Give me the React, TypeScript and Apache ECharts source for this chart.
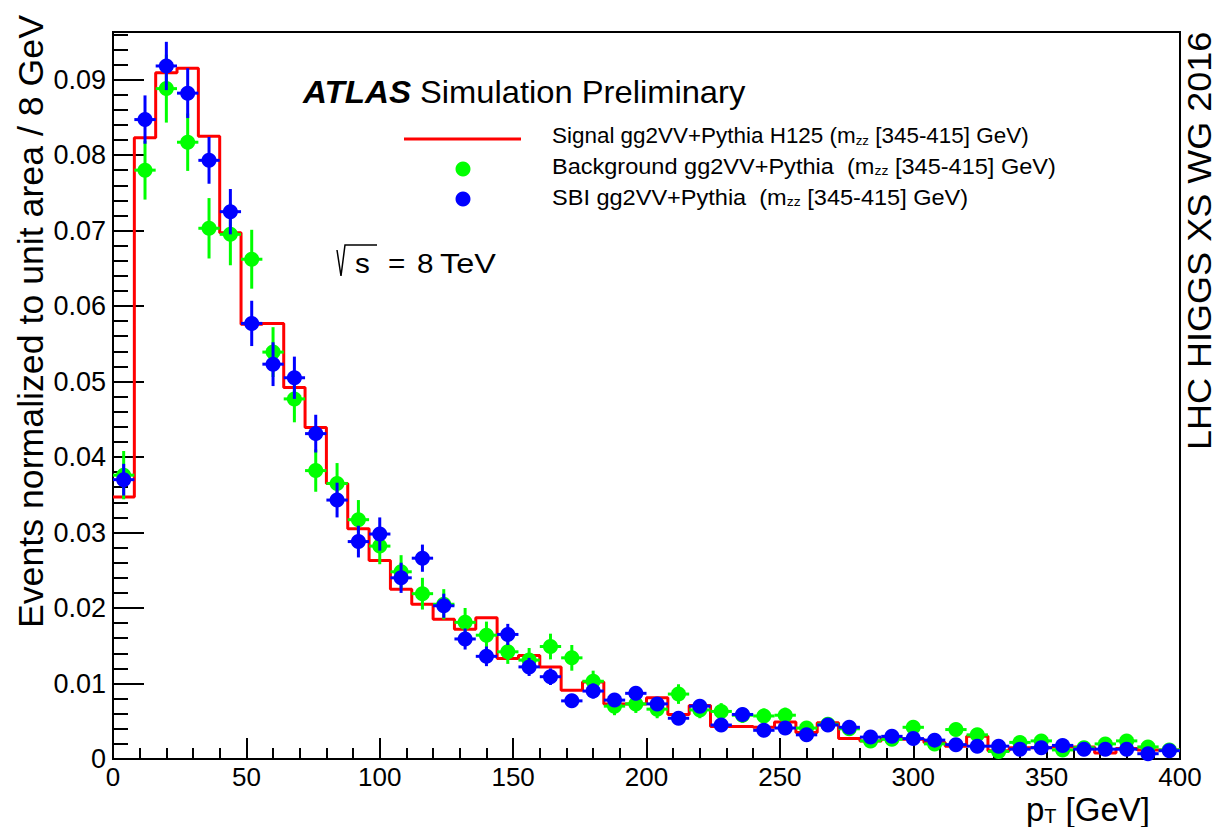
import React, { useEffect, useRef } from 'react';
import * as echarts from 'echarts';

// Bin centres (8 GeV bins from 0 to 400 GeV)
const binCenters = [
  4, 12, 20, 28, 36, 44, 52, 60, 68, 76, 84, 92, 100, 108, 116, 124, 132, 140, 148, 156,
  164, 172, 180, 188, 196, 204, 212, 220, 228, 236, 244, 252, 260, 268, 276, 284, 292, 300, 308, 316,
  324, 332, 340, 348, 356, 364, 372, 380, 388, 396,
];
const halfBin = 4;

// Signal gg2VV+Pythia H125 (histogram)
const signal = [
  0.0347, 0.0823, 0.0909, 0.0915, 0.0825, 0.0697, 0.0576, 0.0577, 0.0492, 0.0439,
  0.0365, 0.0305, 0.0263, 0.0225, 0.0205, 0.0185, 0.0172, 0.0187, 0.0133, 0.0137,
  0.0122, 0.0091, 0.0102, 0.0073, 0.0073, 0.0081, 0.0059, 0.0071, 0.0043, 0.0043,
  0.0042, 0.0049, 0.0035, 0.0048, 0.0027, 0.0024, 0.0027, 0.0026, 0.0022, 0.0017,
  0.0030, 0.0011, 0.0015, 0.0015, 0.0016, 0.0016, 0.0008, 0.0014, 0.0012, 0.0012,
];

// Background gg2VV+Pythia (points with errors)
const background = [
  0.0376, 0.0780, 0.0888, 0.0817, 0.0703, 0.0695, 0.0662, 0.0539, 0.0477, 0.0382,
  0.0365, 0.0317, 0.0282, 0.0248, 0.0219, 0.0205, 0.0181, 0.0164, 0.0142, 0.0131,
  0.0149, 0.0134, 0.0103, 0.0070, 0.0073, 0.0066, 0.0086, 0.0065, 0.0063, 0.0058,
  0.0057, 0.0058, 0.0041, 0.0046, 0.0040, 0.0024, 0.0026, 0.0042, 0.0020, 0.0039,
  0.0032, 0.0010, 0.0022, 0.0024, 0.0012, 0.0015, 0.0020, 0.0024, 0.0016, 0.0012,
];
const backgroundErr = [
  0.0032, 0.0039, 0.0045, 0.0038, 0.0040, 0.0041, 0.0039, 0.0033, 0.0031, 0.0028,
  0.0027, 0.0026, 0.0024, 0.0022, 0.0021, 0.0020, 0.0019, 0.0018, 0.0016, 0.0016,
  0.0017, 0.0017, 0.0014, 0.0012, 0.0012, 0.0012, 0.0013, 0.0011, 0.0011, 0.0010,
  0.0010, 0.0010, 0.0009, 0.0009, 0.0009, 0.0008, 0.0008, 0.0008, 0.0007, 0.0007,
  0.0007, 0.0006, 0.0006, 0.0006, 0.0006, 0.0005, 0.0005, 0.0005, 0.0005, 0.0005,
];

// SBI gg2VV+Pythia (points with errors)
const sbi = [
  0.0370, 0.0847, 0.0918, 0.0882, 0.0793, 0.0725, 0.0577, 0.0523, 0.0505, 0.0431,
  0.0343, 0.0288, 0.0298, 0.0240, 0.0266, 0.0203, 0.0159, 0.0136, 0.0165, 0.0122,
  0.0109, 0.0077, 0.0090, 0.0078, 0.0087, 0.0073, 0.0054, 0.0070, 0.0045, 0.0059,
  0.0038, 0.0041, 0.0032, 0.0045, 0.0042, 0.0029, 0.0030, 0.0027, 0.0025, 0.0019,
  0.0017, 0.0017, 0.0013, 0.0015, 0.0018, 0.0013, 0.0013, 0.0013, 0.0007, 0.0011,
];
const sbiErr = [
  0.0021, 0.0032, 0.0032, 0.0033, 0.0031, 0.0030, 0.0030, 0.0029, 0.0028, 0.0025,
  0.0023, 0.0021, 0.0022, 0.0020, 0.0018, 0.0016, 0.0014, 0.0013, 0.0014, 0.0012,
  0.0011, 0.0009, 0.0010, 0.0009, 0.0009, 0.0009, 0.0008, 0.0008, 0.0007, 0.0007,
  0.0007, 0.0007, 0.0006, 0.0006, 0.0006, 0.0005, 0.0005, 0.0005, 0.0005, 0.0005,
  0.0004, 0.0004, 0.0004, 0.0004, 0.0004, 0.0004, 0.0004, 0.0004, 0.0004, 0.0004,
];

const legendLabels = [
  'Signal gg2VV+Pythia H125 (m',
  'Background gg2VV+Pythia  (m',
  'SBI gg2VV+Pythia  (m',
];

const RED = '#ff0000';
const GREEN = '#00ff00';
const BLUE = '#0000ff';
const FONT = '"Liberation Sans", Arial, Helvetica, sans-serif';

function makeRender(color: string) {
  return (params: any, api: any) => {
    const x = api.value(0);
    const y = api.value(1);
    const e = api.value(2);
    const c = api.coord([x, y]);
    const t = api.coord([x, y + e]);
    const b = api.coord([x, y - e]);
    const l = api.coord([x - halfBin, y]);
    const r = api.coord([x + halfBin, y]);
    return {
      type: 'group',
      children: [
        { type: 'line', shape: { x1: c[0], y1: t[1], x2: c[0], y2: b[1] }, style: { stroke: color, lineWidth: 3 } },
        { type: 'line', shape: { x1: l[0], y1: c[1], x2: r[0], y2: c[1] }, style: { stroke: color, lineWidth: 3 } },
        { type: 'circle', shape: { cx: c[0], cy: c[1], r: 7.5 }, style: { fill: color } },
      ],
    };
  };
}

export default function App() {
  const ref = useRef<HTMLDivElement>(null);
  useEffect(() => {
    if (!ref.current) return;
    const chart = echarts.init(ref.current, null, { renderer: 'svg' });

    const stepData: number[][] = binCenters.map((c, i) => [c - halfBin, signal[i]]);
    stepData.push([binCenters[binCenters.length - 1] + halfBin, signal[signal.length - 1]]);
    const bgData = binCenters.map((c, i) => [c, background[i], backgroundErr[i]]);
    const sbiData = binCenters.map((c, i) => [c, sbi[i], sbiErr[i]]);

    const legendText = (i: number, y: number, sx: number) => ({
      type: 'text',
      x: 552,
      y,
      scaleX: sx,
      style: {
        text: `${legendLabels[i]}{sub|zz} [345-415] GeV)`,
        fontSize: 22,
        fontFamily: FONT,
        fill: '#000',
        verticalAlign: 'middle',
        rich: {
          sub: { fontSize: 13, fontFamily: FONT, fill: '#000', verticalAlign: 'bottom', lineHeight: 20 },
        },
      },
    });

    const option: any = {
      animation: false,
      backgroundColor: '#ffffff',
      grid: {
        left: 113,
        right: 37,
        top: 32,
        bottom: 68,
        show: true,
        borderColor: '#000',
        borderWidth: 2,
        backgroundColor: 'transparent',
      },
      xAxis: {
        type: 'value',
        min: 0,
        max: 400,
        interval: 50,
        axisLine: { show: true, onZero: false, lineStyle: { color: '#000', width: 2 } },
        axisTick: { show: true, inside: true, length: 21, lineStyle: { color: '#000', width: 2 } },
        minorTick: { show: true, splitNumber: 5, length: 11, lineStyle: { color: '#000', width: 2 } },
        splitLine: { show: false },
        axisLabel: { fontSize: 26, fontFamily: FONT, color: '#000', margin: 5 },
      },
      yAxis: {
        type: 'value',
        min: 0,
        max: 0.0963,
        interval: 0.01,
        axisLine: { show: true, onZero: false, lineStyle: { color: '#000', width: 2 } },
        axisTick: { show: true, inside: true, length: 31, lineStyle: { color: '#000', width: 2 } },
        minorTick: { show: true, splitNumber: 5, length: 15, lineStyle: { color: '#000', width: 2 } },
        splitLine: { show: false },
        axisLabel: {
          fontSize: 27,
          fontFamily: FONT,
          color: '#000',
          margin: 7,
          showMaxLabel: false,
          formatter: (v: number) => (v === 0 ? '0' : v.toFixed(2)),
        },
      },
      series: [
        {
          type: 'line',
          name: 'Signal',
          data: stepData,
          step: 'end',
          symbol: 'none',
          lineStyle: { color: RED, width: 3 },
          z: 2,
        },
        {
          type: 'custom',
          name: 'Background',
          data: bgData,
          encode: { x: 0, y: 1 },
          renderItem: makeRender(GREEN),
          z: 3,
        },
        {
          type: 'custom',
          name: 'SBI',
          data: sbiData,
          encode: { x: 0, y: 1 },
          renderItem: makeRender(BLUE),
          z: 4,
        },
      ],
      graphic: [
        {
          type: 'text',
          x: 303,
          y: 92,
          scaleX: 1.07,
          style: { text: 'ATLAS', fontSize: 31, fontWeight: 'bold', fontStyle: 'italic', fontFamily: FONT, fill: '#000', verticalAlign: 'middle' },
        },
        {
          type: 'text',
          x: 420,
          y: 92,
          scaleX: 1.055,
          style: { text: 'Simulation Preliminary', fontSize: 31, fontFamily: FONT, fill: '#000', verticalAlign: 'middle' },
        },
        { type: 'line', shape: { x1: 404, y1: 139, x2: 521, y2: 139 }, style: { stroke: RED, lineWidth: 3 } },
        { type: 'circle', shape: { cx: 463, cy: 169, r: 7.5 }, style: { fill: GREEN } },
        { type: 'circle', shape: { cx: 463, cy: 199, r: 7.5 }, style: { fill: BLUE } },
        legendText(0, 136, 1.02),
        legendText(1, 166, 1.07),
        legendText(2, 197, 1.07),
        {
          type: 'polyline',
          shape: { points: [[337, 250], [341, 276], [345, 245], [377, 245]] },
          style: { stroke: '#000', lineWidth: 1.5, fill: null },
        },
        {
          type: 'text',
          x: 355,
          y: 263,
          scaleX: 1.1,
          style: { text: 's', fontSize: 27, fontFamily: FONT, fill: '#000', verticalAlign: 'middle' },
        },
        {
          type: 'text',
          x: 388,
          y: 263,
          scaleX: 1.1,
          style: { text: '=', fontSize: 27, fontFamily: FONT, fill: '#000', verticalAlign: 'middle' },
        },
        {
          type: 'text',
          x: 417,
          y: 263,
          scaleX: 1.1,
          style: { text: '8', fontSize: 27, fontFamily: FONT, fill: '#000', verticalAlign: 'middle' },
        },
        {
          type: 'text',
          x: 440,
          y: 263,
          scaleX: 1.2,
          style: { text: 'TeV', fontSize: 27, fontFamily: FONT, fill: '#000', verticalAlign: 'middle' },
        },
        {
          type: 'text',
          x: 31,
          y: 15,
          rotation: Math.PI / 2,
          scaleX: 1.02,
          style: {
            text: 'Events normalized to unit area / 8 GeV',
            fontSize: 35,
            fontFamily: FONT,
            fill: '#000',
            align: 'right',
            verticalAlign: 'middle',
          },
        },
        {
          type: 'text',
          x: 1199,
          y: 450,
          rotation: Math.PI / 2,
          scaleX: 1.06,
          style: {
            text: 'LHC HIGGS XS WG 2016',
            fontSize: 34,
            lineHeight: 34,
            fontFamily: FONT,
            fill: '#000',
            align: 'left',
            verticalAlign: 'middle',
          },
        },
        {
          type: 'text',
          x: 1150,
          y: 809,
          style: {
            text: 'p{sub|T} [GeV]',
            fontSize: 33,
            lineHeight: 34,
            fontFamily: FONT,
            fill: '#000',
            align: 'right',
            verticalAlign: 'middle',
            rich: {
              sub: { fontSize: 20, fontFamily: FONT, fill: '#000', verticalAlign: 'bottom', lineHeight: 30 },
            },
          },
        },
      ],
    };

    chart.setOption(option);
    return () => chart.dispose();
  }, []);

  return (
    <div
      ref={ref}
      style={{ position: 'absolute', left: 0, top: 0, width: 1217, height: 827, background: '#fff' }}
    />
  );
}
